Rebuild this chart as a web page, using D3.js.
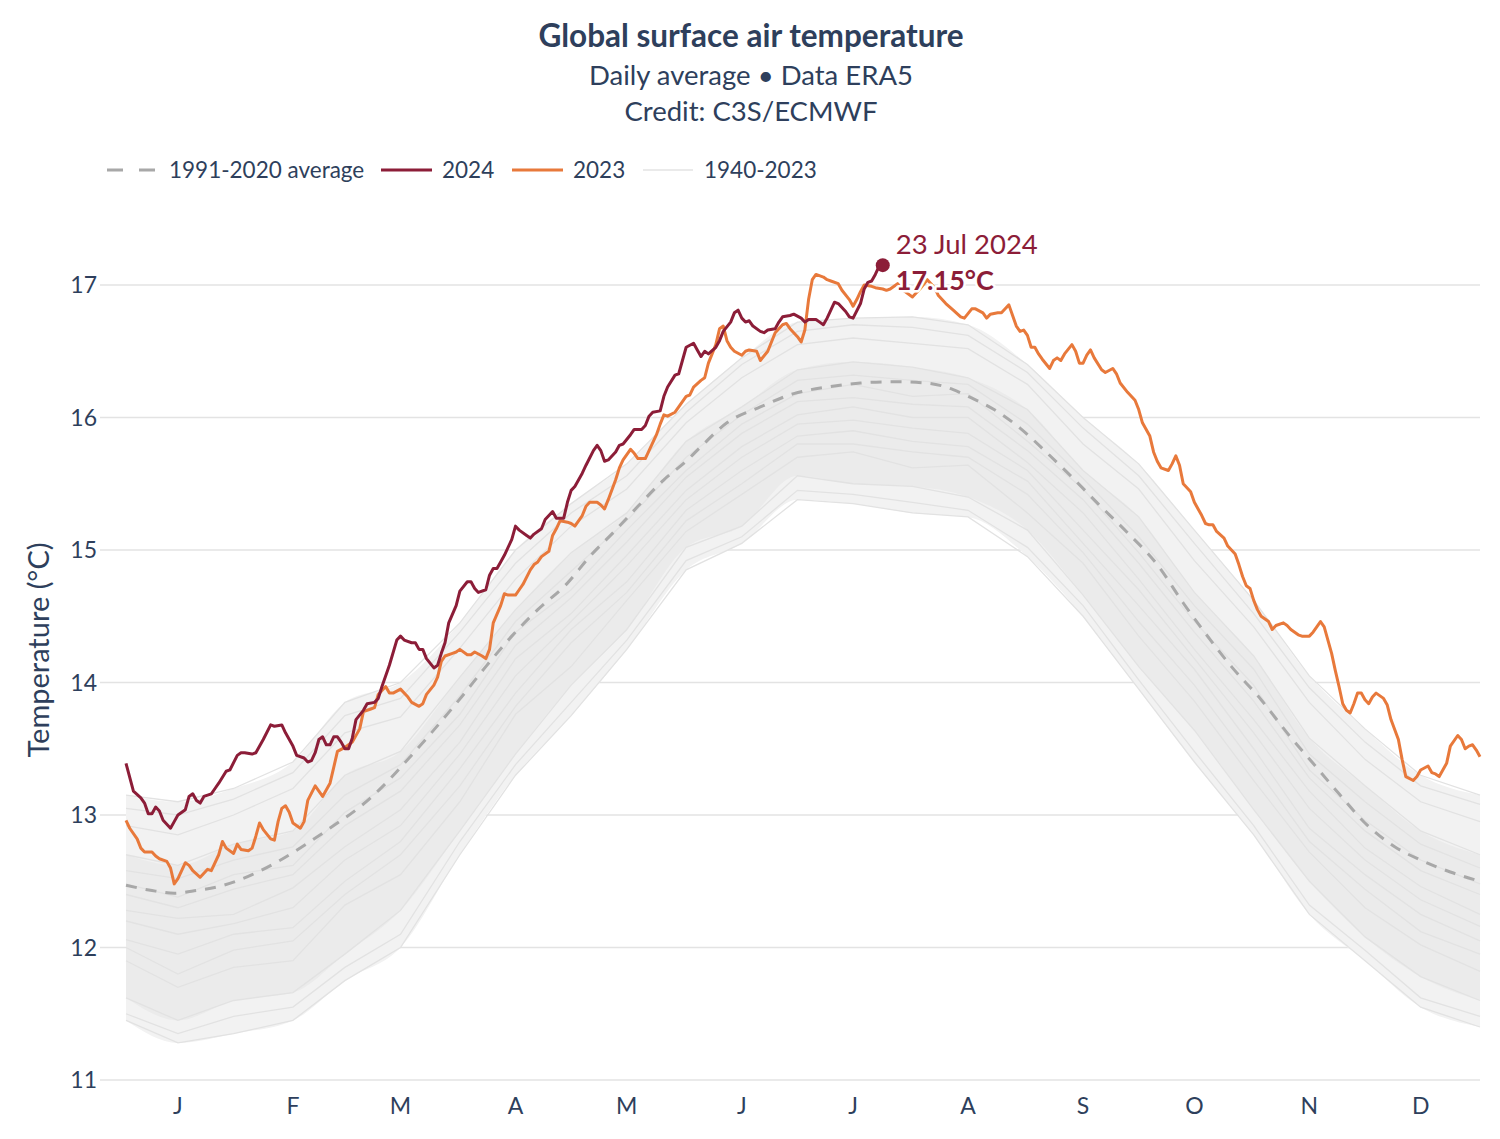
<!DOCTYPE html>
<html>
<head>
<meta charset="utf-8">
<script src="https://cdn.jsdelivr.net/npm/d3@7/dist/d3.min.js"></script>
<style>
  html, body { margin: 0; padding: 0; background: #fff; }
  svg { display: block; font-family: Lato, "Open Sans", sans-serif; }
</style>
</head>
<body>
<svg id="chart" width="1500" height="1139"></svg>
<script>
// ---------------- DATA ----------------
const monthLabels = ["J","F","M","A","M","J","J","A","S","O","N","D"];
const monthTickDays = [15,46,75,106,136,167,197,228,259,289,320,350];
const yTicks = [11,12,13,14,15,16,17];

// 2024 daily values [dayOfYear, °C]
const series2024 = [[1,13.39],[3,13.18],[5,13.13],[6,13.09],[7,13.01],[8,13.01],[9,13.06],[10,13.03],[11,12.96],[13,12.90],[14,12.95],[15,13.00],[17,13.04],[18,13.14],[19,13.16],[20,13.11],[21,13.09],[22,13.14],[24,13.16],[25,13.20],[26,13.24],[28,13.33],[29,13.34],[31,13.45],[32,13.47],[33,13.47],[35,13.46],[36,13.47],[38,13.57],[40,13.68],[41,13.67],[43,13.68],[44,13.62],[46,13.52],[47,13.45],[49,13.43],[50,13.40],[51,13.41],[52,13.47],[53,13.57],[54,13.59],[55,13.53],[56,13.53],[57,13.59],[58,13.59],[59,13.55],[60,13.50],[61,13.50],[62,13.58],[63,13.72],[65,13.79],[66,13.84],[68,13.85],[69,13.88],[70,13.97],[72,14.13],[74,14.32],[75,14.35],[76,14.32],[78,14.30],[79,14.30],[80,14.25],[81,14.25],[82,14.18],[84,14.11],[85,14.13],[86,14.22],[87,14.30],[88,14.45],[90,14.58],[91,14.69],[93,14.76],[94,14.76],[95,14.71],[96,14.68],[98,14.70],[99,14.81],[100,14.86],[101,14.86],[102,14.91],[103,14.96],[105,15.08],[106,15.18],[107,15.15],[109,15.11],[110,15.09],[111,15.12],[113,15.16],[114,15.23],[116,15.29],[117,15.24],[119,15.24],[120,15.36],[121,15.45],[122,15.48],[124,15.58],[125,15.64],[127,15.75],[128,15.79],[129,15.75],[130,15.67],[131,15.68],[133,15.74],[134,15.79],[135,15.80],[137,15.87],[138,15.91],[140,15.91],[141,15.94],[142,16.01],[143,16.04],[145,16.05],[146,16.16],[147,16.23],[149,16.32],[150,16.33],[151,16.43],[152,16.53],[154,16.56],[155,16.51],[156,16.46],[157,16.50],[158,16.48],[160,16.53],[161,16.58],[162,16.65],[164,16.72],[165,16.79],[166,16.81],[167,16.75],[168,16.72],[169,16.73],[170,16.69],[172,16.65],[173,16.64],[174,16.66],[176,16.67],[177,16.72],[178,16.76],[180,16.77],[181,16.78],[183,16.75],[184,16.72],[185,16.74],[187,16.74],[188,16.72],[189,16.70],[190,16.75],[191,16.81],[192,16.87],[193,16.86],[195,16.80],[196,16.76],[197,16.75],[199,16.86],[200,16.97],[201,17.02],[202,17.03],[203,17.08],[204,17.14],[205,17.15]];

// 2023 daily values [dayOfYear, °C]
const series2023 = [[1,12.96],[2,12.90],[4,12.82],[5,12.75],[6,12.72],[8,12.72],[9,12.69],[10,12.67],[12,12.65],[13,12.60],[14,12.48],[15,12.52],[17,12.64],[18,12.62],[19,12.58],[21,12.53],[22,12.56],[23,12.59],[24,12.58],[26,12.70],[27,12.80],[28,12.75],[30,12.71],[31,12.78],[32,12.74],[34,12.73],[35,12.75],[36,12.84],[37,12.94],[38,12.89],[40,12.82],[41,12.81],[42,12.95],[43,13.05],[44,13.07],[45,13.02],[46,12.94],[48,12.90],[49,12.95],[50,13.11],[52,13.22],[53,13.18],[54,13.14],[56,13.24],[57,13.36],[58,13.48],[60,13.51],[61,13.53],[62,13.55],[64,13.65],[65,13.78],[67,13.80],[68,13.81],[69,13.91],[71,13.97],[72,13.92],[73,13.92],[75,13.95],[77,13.89],[78,13.85],[80,13.82],[81,13.84],[82,13.91],[84,13.98],[85,14.04],[86,14.16],[87,14.20],[89,14.22],[90,14.23],[91,14.25],[93,14.21],[94,14.21],[95,14.23],[97,14.20],[98,14.18],[99,14.25],[100,14.45],[102,14.58],[103,14.67],[104,14.66],[106,14.66],[107,14.70],[108,14.74],[110,14.85],[111,14.89],[112,14.91],[113,14.95],[115,14.99],[116,15.11],[117,15.16],[118,15.22],[120,15.21],[121,15.20],[122,15.18],[124,15.26],[125,15.33],[126,15.36],[128,15.36],[129,15.34],[130,15.31],[131,15.38],[133,15.53],[134,15.62],[135,15.68],[137,15.76],[138,15.73],[139,15.69],[141,15.69],[142,15.75],[144,15.87],[145,15.95],[146,16.02],[147,16.01],[149,16.04],[150,16.08],[152,16.16],[153,16.17],[154,16.23],[156,16.28],[157,16.30],[158,16.41],[160,16.55],[161,16.67],[162,16.69],[163,16.58],[164,16.53],[165,16.50],[167,16.47],[168,16.50],[169,16.51],[171,16.50],[172,16.43],[174,16.50],[175,16.57],[176,16.64],[178,16.70],[179,16.71],[180,16.67],[182,16.61],[183,16.57],[184,16.66],[185,16.89],[186,17.04],[187,17.08],[189,17.06],[190,17.04],[191,17.03],[193,17.01],[194,16.96],[196,16.89],[197,16.84],[198,16.89],[199,16.95],[200,17.00],[202,16.99],[203,16.98],[205,16.97],[206,16.96],[207,16.97],[209,17.01],[211,16.95],[213,16.91],[215,16.97],[217,17.04],[219,16.98],[220,16.92],[222,16.86],[224,16.81],[226,16.76],[227,16.75],[229,16.82],[230,16.82],[232,16.79],[233,16.75],[234,16.78],[236,16.79],[237,16.79],[238,16.82],[239,16.85],[240,16.77],[241,16.69],[242,16.65],[243,16.66],[244,16.62],[245,16.53],[246,16.53],[247,16.48],[248,16.44],[250,16.37],[251,16.43],[252,16.45],[253,16.43],[254,16.48],[256,16.55],[257,16.50],[258,16.41],[259,16.41],[260,16.47],[261,16.51],[262,16.45],[264,16.36],[265,16.34],[267,16.37],[268,16.33],[269,16.26],[271,16.19],[273,16.13],[274,16.06],[275,15.96],[277,15.86],[278,15.74],[279,15.67],[280,15.62],[282,15.60],[283,15.65],[284,15.71],[285,15.64],[286,15.50],[288,15.44],[289,15.36],[291,15.26],[292,15.20],[293,15.19],[294,15.19],[295,15.14],[297,15.09],[298,15.03],[300,14.97],[301,14.89],[302,14.80],[303,14.73],[304,14.71],[305,14.62],[306,14.55],[307,14.50],[309,14.46],[310,14.40],[311,14.43],[313,14.45],[314,14.43],[315,14.40],[317,14.36],[318,14.35],[319,14.35],[320,14.35],[321,14.38],[323,14.46],[324,14.42],[325,14.32],[326,14.22],[327,14.09],[328,13.97],[329,13.84],[330,13.79],[331,13.77],[332,13.84],[333,13.92],[334,13.92],[335,13.87],[336,13.84],[337,13.89],[338,13.92],[340,13.88],[341,13.83],[342,13.72],[344,13.57],[345,13.42],[346,13.29],[348,13.26],[349,13.29],[350,13.34],[352,13.37],[353,13.32],[354,13.31],[355,13.29],[357,13.39],[358,13.52],[360,13.60],[361,13.57],[362,13.50],[363,13.52],[364,13.53],[365,13.49],[366,13.44]];

// 1991-2020 average [dayOfYear, °C]
const seriesAvg = [[1,12.47],[8,12.43],[14,12.41],[20,12.43],[26,12.46],[35,12.55],[42,12.65],[49,12.77],[57,12.92],[64,13.06],[70,13.21],[76,13.39],[83,13.61],[92,13.91],[98,14.12],[105,14.35],[112,14.55],[120,14.75],[126,14.95],[133,15.15],[139,15.33],[146,15.53],[152,15.67],[156,15.78],[163,15.96],[172,16.08],[181,16.18],[190,16.23],[199,16.26],[208,16.27],[217,16.26],[224,16.21],[228,16.16],[235,16.06],[242,15.92],[249,15.74],[256,15.55],[263,15.35],[271,15.13],[279,14.89],[286,14.60],[292,14.37],[299,14.12],[307,13.87],[314,13.62],[321,13.39],[328,13.16],[335,12.94],[343,12.76],[350,12.66],[358,12.57],[366,12.50]];

// 1940-2023: sampled days, envelope and representative year traces (estimated)
const histDays  = [1,15,30,46,60,75,91,106,121,136,152,167,182,197,213,228,244,259,274,289,305,320,335,350,366];
const histLower = [11.45,11.28,11.35,11.45,11.75,12.00,12.70,13.30,13.75,14.25,14.85,15.05,15.38,15.35,15.28,15.25,14.95,14.50,13.95,13.40,12.85,12.25,11.90,11.55,11.40];
const histUpper = [13.15,13.10,13.20,13.40,13.85,14.00,14.45,15.00,15.35,15.65,16.10,16.45,16.72,16.75,16.76,16.70,16.40,16.00,15.65,15.15,14.62,14.05,13.65,13.30,13.15];
const histYearA = [11.62,11.45,11.60,11.66,11.95,12.28,12.88,13.46,13.98,14.40,15.02,15.18,15.56,15.50,15.48,15.40,15.15,14.66,14.12,13.64,13.04,12.50,12.08,11.78,11.60];
const histYearB = [11.90,11.70,11.85,11.90,12.32,12.55,13.10,13.76,14.12,14.62,15.14,15.42,15.70,15.74,15.62,15.64,15.28,14.90,14.35,13.86,13.26,12.72,12.30,12.02,11.82];
const histYearC = [12.06,11.95,12.10,12.15,12.50,12.80,13.35,13.92,14.40,14.76,15.30,15.60,15.86,15.90,15.82,15.78,15.52,15.05,14.58,14.10,13.50,12.90,12.55,12.25,12.05];
const histYearD = [12.28,12.22,12.25,12.45,12.76,13.04,13.55,14.18,14.52,14.96,15.45,15.78,16.02,16.08,16.00,16.00,15.66,15.28,14.78,14.25,13.72,13.18,12.75,12.46,12.25];
const histYearE = [12.48,12.38,12.55,12.62,13.02,13.28,13.76,14.38,14.70,15.15,15.60,15.95,16.18,16.25,16.16,16.18,15.82,15.46,14.98,14.46,13.98,13.34,12.96,12.66,12.48];
const histYearF = [12.70,12.62,12.78,12.88,13.30,13.48,14.04,14.55,14.98,15.28,15.82,16.08,16.36,16.42,16.38,16.30,16.06,15.60,15.25,14.68,14.20,13.58,13.22,12.88,12.70];
const histYearG = [12.92,12.85,13.00,13.20,13.62,13.74,14.26,14.78,15.18,15.46,15.96,16.30,16.55,16.60,16.56,16.52,16.25,15.80,15.46,14.92,14.42,13.85,13.42,13.10,12.95];
const histYearH = [11.50,11.35,11.48,11.55,11.85,12.10,12.80,13.38,13.85,14.32,14.92,15.10,15.45,15.42,15.36,15.30,15.02,14.58,14.02,13.48,12.92,12.32,11.98,11.62,11.48];
const histYearI = [12.00,11.80,11.98,12.05,12.40,12.70,13.22,13.82,14.30,14.68,15.22,15.50,15.80,15.80,15.74,15.70,15.42,14.98,14.46,13.98,13.38,12.80,12.44,12.12,11.95];
const histYearJ = [12.20,12.10,12.18,12.30,12.66,12.92,13.46,14.05,14.46,14.88,15.38,15.70,15.95,15.98,15.92,15.88,15.60,15.15,14.70,14.18,13.62,13.05,12.66,12.36,12.16];
const histYearK = [12.40,12.30,12.44,12.55,12.92,13.18,13.68,14.28,14.64,15.06,15.55,15.88,16.12,16.15,16.10,16.08,15.75,15.38,14.90,14.38,13.86,13.28,12.88,12.58,12.40];
const histYearL = [12.58,12.52,12.66,12.76,13.15,13.38,13.90,14.46,14.84,15.22,15.70,16.02,16.28,16.32,16.28,16.25,15.95,15.54,15.10,14.58,14.10,13.46,13.10,12.78,12.60];
const histYearM = [13.05,13.00,13.12,13.32,13.75,13.88,14.38,14.90,15.28,15.56,16.04,16.40,16.65,16.70,16.68,16.62,16.34,15.92,15.56,15.05,14.52,13.96,13.55,13.22,13.08];

// Annotation
const peakDay = 205, peakValue = 17.15, peakLabel = "23 Jul 2024", peakValueLabel = "17.15°C";

// ---------------- CHART ----------------
const svg = d3.select("#chart");
const C = {
  text: "#2e3f5c", grid: "#e3e3e3", hist: "#e2e2e2", histFill: "#f2f2f2", histCore: "#ebebeb",
  avg: "#a8a8a8", y2023: "#e8793b", y2024: "#8c1d38"
};

const x = d3.scaleLinear().domain([1, 366]).range([126, 1480]);
const y = d3.scaleLinear().domain([11, 17]).range([1080, 285]);
const gridLeft = 100, gridRight = 1480;

// title
svg.append("text").attr("x", 751).attr("y", 47).attr("text-anchor", "middle")
  .attr("font-size", 31.5).attr("font-weight", 700).attr("fill", C.text)
  .text("Global surface air temperature");
svg.append("text").attr("x", 751).attr("y", 85).attr("text-anchor", "middle")
  .attr("font-size", 27.5).attr("fill", C.text).text("Daily average • Data ERA5");
svg.append("text").attr("x", 751).attr("y", 121).attr("text-anchor", "middle")
  .attr("font-size", 27.5).attr("fill", C.text).text("Credit: C3S/ECMWF");

// legend
const legend = [
  {label: "1991-2020 average", x1: 107, x2: 155, tx: 169, color: C.avg, w: 3, dash: "16,16"},
  {label: "2024", x1: 381, x2: 432, tx: 442, color: C.y2024, w: 3, dash: null},
  {label: "2023", x1: 512, x2: 563, tx: 573, color: C.y2023, w: 3, dash: null},
  {label: "1940-2023", x1: 643, x2: 693, tx: 704, color: "#e3e3e3", w: 1.5, dash: null}
];
const lg = svg.append("g");
legend.forEach(d => {
  lg.append("line").attr("x1", d.x1).attr("x2", d.x2).attr("y1", 170).attr("y2", 170)
    .attr("stroke", d.color).attr("stroke-width", d.w).attr("stroke-dasharray", d.dash);
  lg.append("text").attr("x", d.tx).attr("y", 178).attr("font-size", 22.5)
    .attr("fill", C.text).text(d.label);
});

// gridlines + y axis
const yAxis = svg.append("g");
yTicks.forEach(t => {
  yAxis.append("line").attr("x1", gridLeft).attr("x2", gridRight)
    .attr("y1", y(t)).attr("y2", y(t)).attr("stroke", C.grid).attr("stroke-width", 1.5);
  yAxis.append("text").attr("x", 97).attr("y", y(t) + 8).attr("text-anchor", "end")
    .attr("font-size", 23).attr("fill", C.text).text(t);
});
svg.append("text").attr("transform", "translate(49,650) rotate(-90)")
  .attr("text-anchor", "middle").attr("font-size", 29).attr("fill", C.text)
  .text("Temperature (°C)");

// x axis labels
monthTickDays.forEach((d, i) => {
  svg.append("text").attr("x", x(d)).attr("y", 1114).attr("text-anchor", "middle")
    .attr("font-size", 23).attr("fill", C.text).text(monthLabels[i]);
});

// historical band
const histArea = (lo, hi) => d3.area().x((d, i) => x(histDays[i])).y0((d, i) => y(lo[i]))
  .y1((d, i) => y(hi[i])).curve(d3.curveMonotoneX);
svg.append("path").datum(histDays).attr("d", histArea(histLower, histUpper)).attr("fill", C.histFill);
svg.append("path").datum(histDays).attr("d", histArea(histYearA, histYearF)).attr("fill", C.histCore);

const histLine = d3.line().x((d, i) => x(histDays[i])).y(d => y(d)).curve(d3.curveLinear);
[histLower, histUpper, histYearA, histYearB, histYearC, histYearD, histYearE, histYearF, histYearG,
 histYearH, histYearI, histYearJ, histYearK, histYearL, histYearM]
  .forEach(s => {
    svg.append("path").datum(s).attr("d", histLine).attr("fill", "none")
      .attr("stroke", C.hist).attr("stroke-width", 1.3);
  });

// series lines
const lineSmooth = d3.line().x(d => x(d[0])).y(d => y(d[1])).curve(d3.curveMonotoneX);
svg.append("path").datum(seriesAvg).attr("d", lineSmooth)
  .attr("fill", "none").attr("stroke", C.avg).attr("stroke-width", 3)
  .attr("stroke-dasharray", "11,9");
const line2 = d3.line().x(d => x(d[0])).y(d => y(d[1])).curve(d3.curveLinear);
svg.append("path").datum(series2023).attr("d", line2).attr("fill", "none")
  .attr("stroke", C.y2023).attr("stroke-width", 3).attr("stroke-linejoin", "round");
svg.append("path").datum(series2024).attr("d", line2).attr("fill", "none")
  .attr("stroke", C.y2024).attr("stroke-width", 3).attr("stroke-linejoin", "round");

// annotation
svg.append("circle").attr("cx", x(peakDay)).attr("cy", y(peakValue)).attr("r", 7)
  .attr("fill", C.y2024);
svg.append("text").attr("x", x(peakDay) + 13).attr("y", y(peakValue) - 11)
  .attr("font-size", 27.5).attr("fill", C.y2024).text(peakLabel);
svg.append("text").attr("x", x(peakDay) + 13).attr("y", y(peakValue) + 25)
  .attr("font-size", 27).attr("font-weight", 700).attr("fill", C.y2024)
  .attr("stroke", "#fff").attr("stroke-width", 5).attr("paint-order", "stroke")
  .attr("stroke-linejoin", "round").text(peakValueLabel);
</script>
</body>
</html>
